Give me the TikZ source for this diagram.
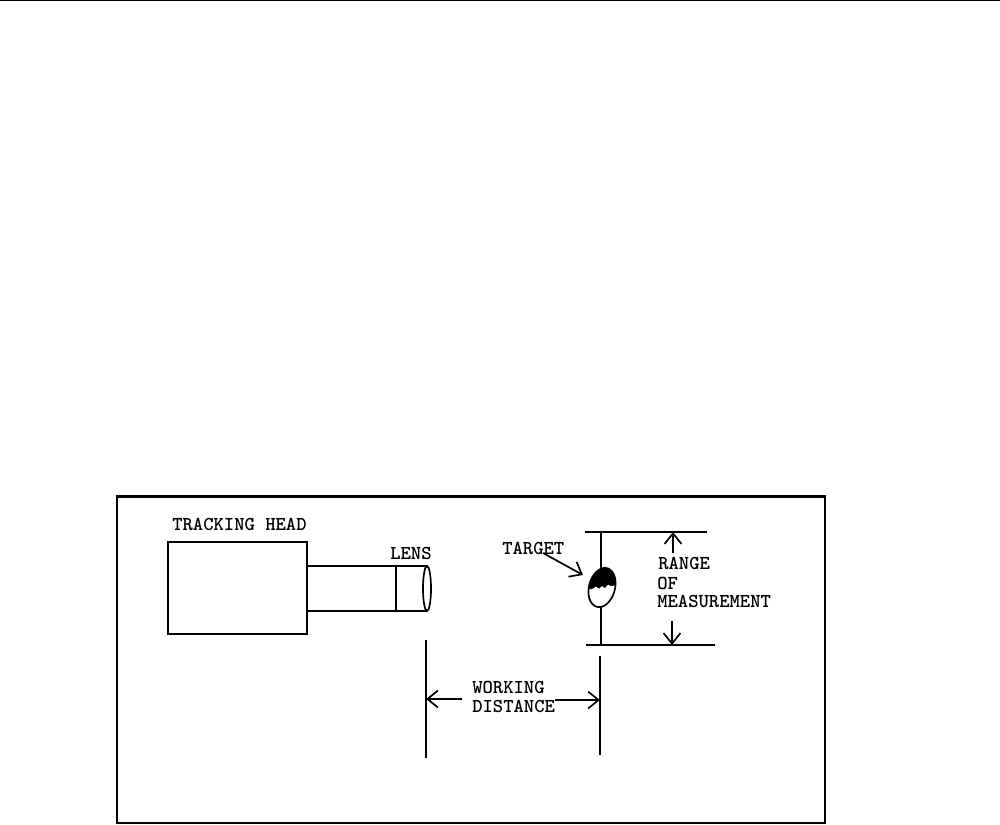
\documentclass[tikz,border=0pt]{standalone}
\usepackage{fontspec}
\usetikzlibrary{arrows.meta}

\tikzset{
	label/.style={font=\ttfamily\bfseries\fontsize{14}{14}\selectfont, inner sep=0pt, anchor=west},
	barb/.style={-{Straight Barb[length=7.5pt,width=12pt]}, line width=1.2pt},
	part/.style={line width=1.2pt},
}

\begin{document}
\begin{tikzpicture}[x=0.025cm,y=-0.025cm]
	\useasboundingbox (0,0) rectangle (1000,824);
	
	%rule at top of page, frame
	\draw[line width=0.9pt] (0,0.5)--(1000,0.5);
	\draw[line width=1.7pt] (117,496.5) rectangle (825,823);
	
	%tracking head and tube
	\draw[part] (168,542) rectangle (307,634);
	\draw[part] (307,566)--(427,566);
	\draw[part] (307,611)--(427,611);
	\draw[part] (396,566)--(396,611);
	\draw[part] (427,588.5) ellipse (4 and 22.5);
	
	%target with its stem
	\draw[part] (601,532)--(601,570);
	\draw[part] (601,606)--(601,645);
	\begin{scope}
		\clip[rotate around={-15:(602,587.5)}] (602,587.5) ellipse (13 and 20);
		\fill (580,560)--(625,560)--(625,584)--(611,586)--(608,584.5)--(605,588)--(602,586)--(599,588.5)--(596,586.5)--(592,589)--(580,590)--cycle;
	\end{scope}
	\draw[part,rotate around={-15:(602,587.5)}] (602,587.5) ellipse (13 and 20);
	
	%limits of the range, limits of the distance
	\draw[part] (585,532)--(707,532);
	\draw[part] (586,645)--(715,645);
	\draw[part] (426,640)--(426,758);
	\draw[part] (600,656)--(600,755);
	
	%labels
	\node[label] (head) at (172,524) {TRACKING HEAD};
	\node[label] (lens) at (390,553) {LENS};
	\node[label] (target) at (502,548) {TARGET};
	\node[label] (range) at (658,563) {RANGE};
	\node[label] (of) at (657,583) {OF};
	\node[label] (measurement) at (657,601) {MEASUREMENT};
	\node[label] (working) at (472,687) {WORKING};
	\node[label] (distance) at (472,706) {DISTANCE};
	
	%arrows
	\coordinate (targettip) at (583,575);
	\coordinate (targetfoot) at (543,553);
	\coordinate (rangetop) at (673,532);
	\coordinate (rangetopfoot) at (673,553);
	\coordinate (rangebot) at (672,645);
	\coordinate (rangebotfoot) at (672,621);
	\coordinate (distleft) at (426,699);
	\coordinate (distleftfoot) at (462,699);
	\coordinate (distright) at (600,700);
	\draw[barb] (targetfoot)--(targettip);
	\draw[barb] (rangetopfoot)--(rangetop);
	\draw[barb] (rangebotfoot)--(rangebot);
	\draw[barb] (distleftfoot)--(distleft);
	\draw[barb] (distance.east |- distright)--(distright);
	
\end{tikzpicture}
\end{document}
